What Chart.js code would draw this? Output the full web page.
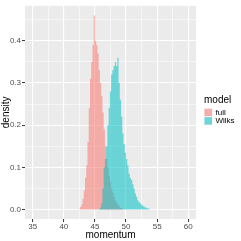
<!DOCTYPE html>
<html>
<head>
<meta charset="utf-8">
<script src="https://cdn.jsdelivr.net/npm/chart.js@4/dist/chart.umd.min.js"></script>
<style>
  html, body { margin: 0; padding: 0; background: #ffffff; }
  #wrap { width: 241px; height: 241px; }
</style>
</head>
<body>
<div id="wrap"><canvas id="histChart" width="241" height="241"></canvas></div>
<script>
// bin centres (width 0.2) and densities
const fullBins = [42.5, 42.7, 42.9, 43.1, 43.3, 43.5, 43.7, 43.9, 44.1, 44.3, 44.5, 44.7, 44.9, 45.1, 45.3, 45.5, 45.7, 45.9,
    46.1, 46.3, 46.5, 46.7, 46.9, 47.1, 47.3, 47.5, 47.7, 47.9, 48.1, 48.3, 48.5, 48.7, 48.9, 49.1, 49.3, 49.5];
const fullDensity = [0.003, 0.006, 0.012, 0.025, 0.045, 0.075, 0.105, 0.16, 0.24, 0.31, 0.35, 0.39, 0.46, 0.40, 0.39, 0.37, 0.33, 0.30,
    0.27, 0.23, 0.19, 0.15, 0.12, 0.10, 0.08, 0.065, 0.05, 0.04, 0.03, 0.022, 0.016, 0.011, 0.008, 0.005, 0.003, 0.002];

const wilksBins = [45.7, 45.9, 46.1, 46.3, 46.5, 46.7, 46.9, 47.1, 47.3, 47.5, 47.7, 47.9, 48.1, 48.3, 48.5, 48.7, 48.9, 49.1,
    49.3, 49.5, 49.7, 49.9, 50.1, 50.3, 50.5, 50.7, 50.9, 51.1, 51.3, 51.5, 51.7, 51.9, 52.1, 52.3, 52.5, 52.7, 52.9, 53.1,
    53.3, 53.5, 53.7, 53.9];
const wilksDensity = [0.002, 0.005, 0.015, 0.05, 0.10, 0.12, 0.15, 0.20, 0.24, 0.28, 0.32, 0.33, 0.34, 0.35, 0.34, 0.36, 0.30, 0.26,
    0.22, 0.18, 0.155, 0.135, 0.12, 0.105, 0.085, 0.075, 0.07, 0.06, 0.05, 0.038, 0.03, 0.022, 0.018, 0.014, 0.012, 0.009, 0.007, 0.005,
    0.004, 0.003, 0.002, 0.001];

const modelNames = ['full', 'Wilks'];
const xTickLabels = [35, 40, 45, 50, 55, 60];
const yTickLabels = [0.0, 0.1, 0.2, 0.3, 0.4];

const fills = ['rgba(248,118,109,0.55)', 'rgba(0,191,196,0.55)'];

// ggplot style grey panel
const panelBg = {
    id: 'panelBg',
    beforeDraw(chart) {
        const a = chart.chartArea;
        const ctx = chart.ctx;
        ctx.save();
        ctx.fillStyle = '#EBEBEB';
        ctx.fillRect(a.left, a.top, a.right - a.left, a.bottom - a.top);
        ctx.restore();
    }
};

// legend on the right, drawn by hand
const sideLegend = {
    id: 'sideLegend',
    afterDraw(chart) {
        const ctx = chart.ctx;
        ctx.save();
        ctx.fillStyle = '#000000';
        ctx.font = '10px "Liberation Sans", Arial, sans-serif';
        ctx.textBaseline = 'middle';
        ctx.fillText('model', 204, 100);
        chart.data.datasets.forEach((ds, i) => {
            const y = 108.3 + i * 8.4;
            ctx.fillStyle = '#F2F2F2';
            ctx.fillRect(204, y, 8.5, 8.4);
            ctx.fillStyle = ds.backgroundColor;
            ctx.fillRect(204.5, y + 0.5, 7.5, 7.4);
            ctx.fillStyle = '#000000';
            ctx.font = '8px "Liberation Sans", Arial, sans-serif';
            ctx.fillText(ds.label, 215.5, y + 4.4);
        });
        ctx.restore();
    }
};

function isMajor(list, c) {
    if (!c || !c.tick) return true;
    return list.some(t => Math.abs(t - c.tick.value) < 1e-9);
}

// histogram drawn as a stepped filled outline (steps fall on bin edges)
function histDataset(label, bins, dens, colour, order) {
    return {
        label: label,
        data: bins.map((b, i) => ({ x: b, y: dens[i] })),
        backgroundColor: colour,
        borderColor: 'rgba(0,0,0,0)',
        borderWidth: 0,
        stepped: 'middle',
        fill: 'origin',
        pointRadius: 0,
        order: order
    };
}

const histChart = new Chart(document.getElementById('histChart').getContext('2d'), {
    type: 'line',
    data: {
        datasets: [
            histDataset(modelNames[0], fullBins, fullDensity, fills[0], 2),
            histDataset(modelNames[1], wilksBins, wilksDensity, fills[1], 1)
        ]
    },
    options: {
        responsive: false,
        animation: false,
        layout: { padding: { left: 0, right: 45, top: 2, bottom: 0 } },
        plugins: {
            legend: { display: false },
            tooltip: { enabled: false }
        },
        scales: {
            x: {
                type: 'linear',
                min: 33.75,
                max: 61.25,
                afterBuildTicks: scale => {
                    const t = [];
                    xTickLabels.forEach((v, i) => {
                        t.push({ value: v });
                        if (i < xTickLabels.length - 1) t.push({ value: v + 2.5 });
                    });
                    scale.ticks = t;
                },
                afterFit: scale => { scale.height = 22; },
                border: { display: false },
                grid: {
                    color: '#FFFFFF',
                    lineWidth: c => isMajor(xTickLabels, c) ? 1.1 : 0.55,
                    tickColor: c => isMajor(xTickLabels, c) ? '#333333' : 'rgba(0,0,0,0)',
                    tickLength: 3,
                    tickWidth: 1
                },
                ticks: {
                    autoSkip: false,
                    maxRotation: 0,
                    padding: 0,
                    color: '#4D4D4D',
                    font: { family: '"Liberation Sans", Arial, sans-serif', size: 8 },
                    callback: v => xTickLabels.includes(v) ? String(v) : ''
                },
                title: {
                    display: true,
                    text: 'momentum',
                    color: '#000000',
                    font: { family: '"Liberation Sans", Arial, sans-serif', size: 10 },
                    padding: { top: -1, bottom: 0 }
                }
            },
            y: {
                min: -0.0225,
                max: 0.483,
                afterBuildTicks: scale => {
                    const t = [];
                    yTickLabels.forEach(v => {
                        t.push({ value: v });
                        t.push({ value: v + 0.05 });
                    });
                    scale.ticks = t;
                },
                afterFit: scale => { scale.width = 25; },
                border: { display: false },
                grid: {
                    color: '#FFFFFF',
                    lineWidth: c => isMajor(yTickLabels, c) ? 1.1 : 0.55,
                    tickColor: c => isMajor(yTickLabels, c) ? '#333333' : 'rgba(0,0,0,0)',
                    tickLength: 3,
                    tickWidth: 1
                },
                ticks: {
                    autoSkip: false,
                    padding: 1,
                    color: '#4D4D4D',
                    font: { family: '"Liberation Sans", Arial, sans-serif', size: 8 },
                    callback: v => yTickLabels.some(t => Math.abs(t - v) < 1e-9) ? v.toFixed(1) : ''
                },
                title: {
                    display: true,
                    text: 'density',
                    color: '#000000',
                    font: { family: '"Liberation Sans", Arial, sans-serif', size: 10 },
                    padding: { top: 0, bottom: 0 }
                }
            }
        }
    },
    plugins: [panelBg, sideLegend]
});
</script>
</body>
</html>
